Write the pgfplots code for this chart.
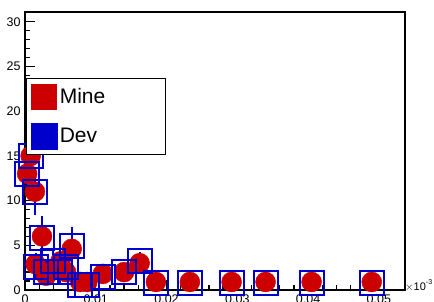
\documentclass[border=0pt]{standalone}
\usepackage{pgfplots}
\pgfplotsset{compat=1.18}
\usepackage{fontspec}
\setmainfont{Liberation Sans}
\definecolor{myred}{RGB}{204,0,0}
\definecolor{myblue}{RGB}{0,0,204}
\begin{document}
\begin{tikzpicture}[x=1pt,y=1pt]
\begin{axis}[
  at={(25pt,11pt)}, anchor=south west,
  scale only axis, width=380pt, height=278pt,
  xmin=0, xmax=0.0537, ymin=0, ymax=31.1,
  axis line style={line width=1.3pt},
  every tick/.style={black, line width=1.3pt},
  tick align=inside, tick pos=left,
  major tick length=10pt, minor tick length=5pt,
  xtick={0,0.01,0.02,0.03,0.04,0.05},
  xticklabels={0,0.01,0.02,0.03,0.04,0.05},
  scaled ticks=false,
  minor x tick num=4,
  ytick={0,5,10,15,20,25,30},
  minor y tick num=4,
  tick label style={font=\fontsize{12.5}{12.5}\selectfont},
  /pgf/number format/assume math mode=true,
  xticklabel style={yshift=-1pt},
  yticklabel style={xshift=-1pt},
  axis on top,
  clip=false,
  legend style={at={(rel axis cs:0.003,0.763)}, anchor=north west,
    draw=black, line width=1.3pt, fill=white,
    inner xsep=4pt, inner ysep=5pt, row sep=13pt,
    font=\fontsize{21}{21}\selectfont, cells={anchor=west}},
]
\addplot[only marks, mark=*, mark size=10pt, myred, mark options={fill=myred, draw=myred},
  legend image code/.code={\fill[myred] (0pt,-12.5pt) rectangle (25pt,12.5pt);}]
coordinates {
(0.0003,13.0) (0.0008,15.0) (0.0014,11.0) (0.0015,2.9) (0.0024,6.0)
(0.0030,1.6) (0.0040,2.2) (0.0050,3.2) (0.0066,4.6) (0.0058,2.0)
(0.0078,0.9) (0.0088,0.9) (0.0110,1.8) (0.0140,2.0) (0.0162,3.0)
(0.0185,0.9) (0.0233,0.9) (0.0292,0.9) (0.0340,0.9) (0.0405,0.9) (0.0490,0.9)
};
\addlegendentry{\makebox[100pt][l]{Mine}}
\addplot[only marks, mark=square, mark size=12pt, myblue, line width=2pt,
  mark options={line width=2pt, draw=myblue},
  legend image code/.code={\fill[myblue] (0pt,-12.5pt) rectangle (25pt,12.5pt);},
  error bars/.cd, y dir=both, y explicit, error mark=none,
  error bar style={line width=2pt, myblue}]
coordinates {
(0.0003,13.0) +- (0,1.2)
(0.0008,15.0) +- (0,1.2)
(0.0014,11.0) +- (0,2.6)
(0.0015,2.6) +- (0,1.5)
(0.0024,5.8) +- (0,2.5)
(0.0030,2.0) +- (0,1.3)
(0.0040,3.2) +- (0,1.5)
(0.0050,2.0) +- (0,1.3)
(0.0066,4.9) +- (0,2.1)
(0.0058,2.6) +- (0,1.3)
(0.0078,0.6) +- (0,0.6)
(0.0088,0.6) +- (0,0.6)
(0.0110,1.5) +- (0,0.8)
(0.0140,2.0) +- (0,0.8)
(0.0162,3.2) +- (0,1.0)
(0.0185,0.8) +- (0,0.5)
(0.0233,0.8) +- (0,0.5)
(0.0292,0.8) +- (0,0.5)
(0.0340,0.8) +- (0,0.5)
(0.0405,0.8) +- (0,0.5)
(0.0490,0.8) +- (0,0.5)
};
\addlegendentry{\makebox[100pt][l]{Dev}}
\end{axis}
\node[anchor=base west, font=\fontsize{11}{11}\selectfont, inner sep=0pt] at (405pt,11pt) {$\times$10\raisebox{6pt}{\fontsize{7}{7}\selectfont -3}};
\pgfresetboundingbox
\useasboundingbox (0pt,0pt) rectangle (434pt,301pt);
\end{tikzpicture}
\end{document}
